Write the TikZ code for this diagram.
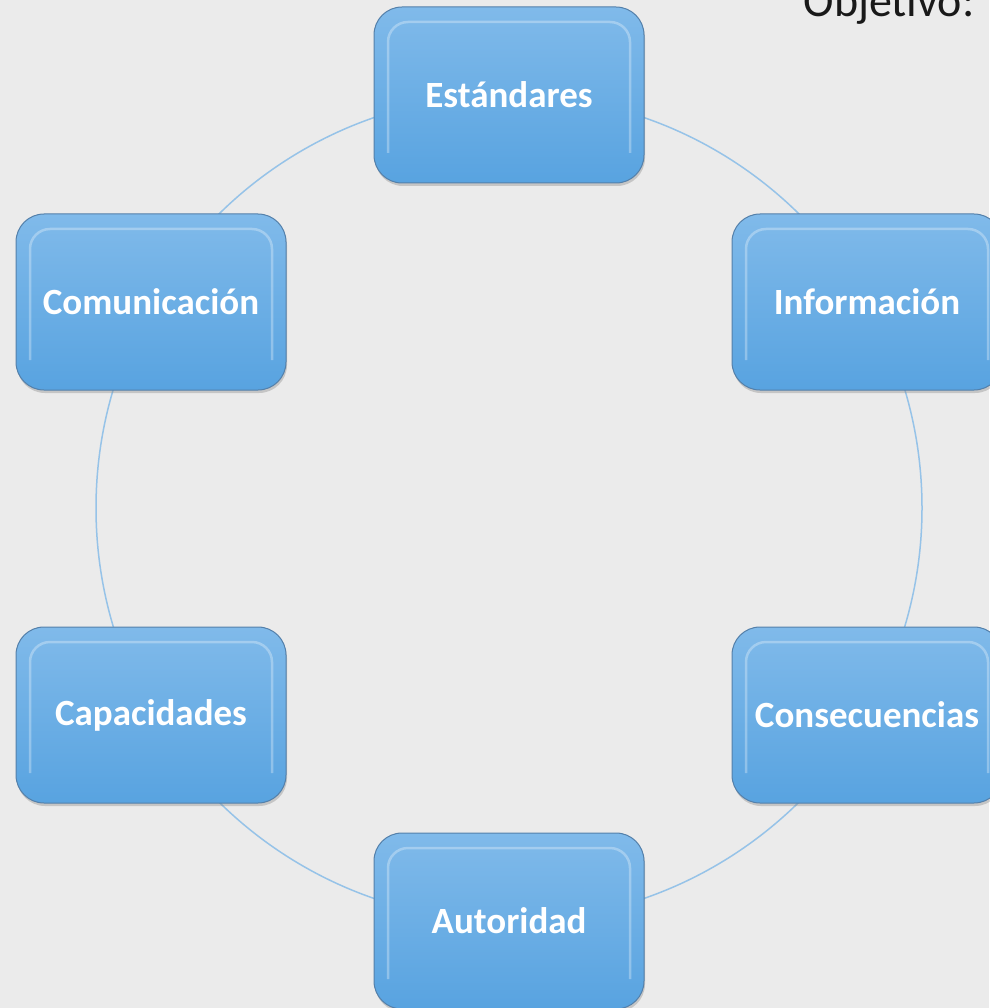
\documentclass[tikz,border=0pt]{standalone}
\usepackage{fontspec}
\setmainfont{Carlito}
\usetikzlibrary{shadows}

\definecolor{fondo}{RGB}{235,235,235}
\definecolor{cajaarriba}{RGB}{128,186,234}
\definecolor{cajaabajo}{RGB}{88,163,224}
\definecolor{borde}{RGB}{84,128,170}
\definecolor{anillo}{RGB}{150,195,232}

\tikzset{
    caja/.style={rounded corners=28pt, draw=borde, line width=1pt,
        top color=cajaarriba, bottom color=cajaabajo,
        minimum width=270pt, minimum height=176pt,
        text=white, font=\bfseries\fontsize{37}{44}\selectfont,
        drop shadow={shadow xshift=1pt, shadow yshift=-3pt, opacity=.35},
        path picture={\draw[white, opacity=.3, line width=2.5pt, rounded corners=20pt]
            ([shift={(14pt,30pt)}]path picture bounding box.south west) --
            ([shift={(14pt,-15pt)}]path picture bounding box.north west) --
            ([shift={(-14pt,-15pt)}]path picture bounding box.north east) --
            ([shift={(-14pt,30pt)}]path picture bounding box.south east);}},
    anillo/.style={draw=anillo, line width=1.5pt}
}

\begin{document}
\begin{tikzpicture}[x=1pt,y=-1pt]
        \fill[fondo] (0,0) rectangle (989,1008);
        \useasboundingbox (0,0) rectangle (989,1008);
        \coordinate (centro) at (509,508);
        \draw[anillo] (centro) circle[radius=413pt];
        \node[caja] (est) at (509,95) {Estándares};
        \node[caja] (inf) at (867,302) {Información};
        \node[caja] (cons) at (867,715) {Consecuencias};
        \node[caja] (aut) at (509,921) {Autoridad};
        \node[caja] (cap) at (151,715) {Capacidades};
        \node[caja] (com) at (151,302) {Comunicación};
        \node[anchor=base east, text=black!90, font=\fontsize{46}{54}\selectfont] (obj) at (978,17) {Objetivo:};
    \end{tikzpicture}
\end{document}
